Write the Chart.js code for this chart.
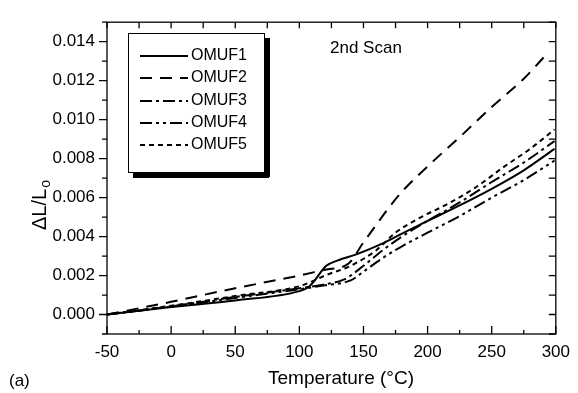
<!DOCTYPE html>
<html>
<head>
<meta charset="utf-8">
<script src="https://cdn.jsdelivr.net/npm/chart.js@4.4.1/dist/chart.umd.min.js"></script>
<style>
html,body{margin:0;padding:0;background:#fff;}
#wrap{width:578px;height:393px;}
</style>
</head>
<body>
<div id="wrap"><canvas id="grafico" width="578" height="393"></canvas></div>
<script>
// valores (temperatura em °C, ΔL/Lo)
const nomes = ['OMUF1','OMUF2','OMUF3','OMUF4','OMUF5'];
const tempOMUF1 = [-50, 0, 50, 100, 107, 112, 117, 121, 130, 145, 165, 180, 200, 225, 250, 275, 299];
const valOMUF1  = [0, 0.00038, 0.00072, 0.0012, 0.0014, 0.00175, 0.0022, 0.0025, 0.00278, 0.0031, 0.00365, 0.00415, 0.0048, 0.0056, 0.00645, 0.0074, 0.0085];
const tempOMUF2 = [-50, 0, 50, 100, 120, 138, 150, 160, 170, 180, 200, 225, 250, 275, 292];
const valOMUF2  = [0, 0.00065, 0.00135, 0.002, 0.0023, 0.0026, 0.0037, 0.0046, 0.0055, 0.0063, 0.0076, 0.0091, 0.01065, 0.0121, 0.0133];
const tempOMUF3 = [-50, 0, 50, 100, 120, 135, 150, 165, 180, 200, 225, 250, 275, 299];
const valOMUF3  = [0, 0.00042, 0.0009, 0.00135, 0.00155, 0.0018, 0.0025, 0.0033, 0.004, 0.0048, 0.00575, 0.0068, 0.0078, 0.0089];
const tempOMUF4 = [-50, 0, 50, 100, 120, 140, 150, 165, 180, 200, 225, 250, 275, 299];
const valOMUF4  = [0, 0.0004, 0.00085, 0.0013, 0.0015, 0.00175, 0.0022, 0.0029, 0.0035, 0.0042, 0.00505, 0.006, 0.0069, 0.0079];
const tempOMUF5 = [-50, 0, 50, 100, 110, 120, 140, 160, 175, 195, 215, 237, 260, 280, 299];
const valOMUF5  = [0, 0.00045, 0.00095, 0.00145, 0.0017, 0.002, 0.0025, 0.0033, 0.0042, 0.005, 0.00565, 0.0065, 0.0076, 0.0085, 0.0095];
const xTicks = [-50, 0, 50, 100, 150, 200, 250, 300];
const yTicks = [0, 0.002, 0.004, 0.006, 0.008, 0.010, 0.012, 0.014];
const tracos = [[], [12, 8], [12, 4, 3, 4], [12, 4, 3, 4, 3, 4], [5, 4]];

const temps = [tempOMUF1, tempOMUF2, tempOMUF3, tempOMUF4, tempOMUF5];
const vals = [valOMUF1, valOMUF2, valOMUF3, valOMUF4, valOMUF5];

const fonte = 'Arial, "Liberation Sans", sans-serif';

// eixos, ticks internos/externos, legenda e textos
const extras = {
  id: 'extras',
  afterDraw(chart){
    const c = chart.ctx, a = chart.chartArea;
    const sx = chart.scales.x, sy = chart.scales.y;
    c.save();
    c.strokeStyle = '#000'; c.lineWidth = 1.3; c.setLineDash([]);
    c.strokeRect(a.left, a.top, a.right - a.left, a.bottom - a.top);
    c.beginPath();
    for(let t = -50; t <= 300; t += 25){
      const px = sx.getPixelForValue(t);
      const major = xTicks.includes(t);
      c.moveTo(px, a.bottom); c.lineTo(px, a.bottom - (major ? 8 : 4));
      c.moveTo(px, a.top); c.lineTo(px, a.top + 6);
    }
    for(let k = -1; k <= 15; k++){
      const v = k / 1000;
      const py = sy.getPixelForValue(v);
      const major = (k % 2 === 0);
      c.moveTo(a.left, py); c.lineTo(a.left - (major ? 8 : 5), py);
      c.moveTo(a.right, py); c.lineTo(a.right - 7, py);
    }
    c.stroke();

    // legenda
    const bx = 128, by = 33, bw = 136, bh = 139;
    c.fillStyle = '#000';
    c.fillRect(bx + 5, by + bh, bw, 6);
    c.fillRect(bx + bw, by + 5, 6, bh);
    c.fillStyle = '#fff';
    c.fillRect(bx, by, bw, bh);
    c.lineWidth = 1; c.strokeRect(bx + 0.5, by + 0.5, bw, bh);
    const linhas = [56, 78, 101, 123, 145];
    c.font = '16px ' + fonte; c.textBaseline = 'middle'; c.textAlign = 'left';
    chart.data.datasets.forEach((ds, i) => {
      c.strokeStyle = '#000'; c.lineWidth = 2;
      c.setLineDash(ds.borderDash);
      c.beginPath(); c.moveTo(140, linhas[i]); c.lineTo(188, linhas[i]); c.stroke();
      c.setLineDash([]);
      c.fillStyle = '#000';
      c.fillText(ds.label, 191, linhas[i]);
    });

    c.font = '17px ' + fonte;
    c.fillText('2nd Scan', 330, 48);
    c.fillText('(a)', 9, 381);
    c.font = '19px ' + fonte; c.textAlign = 'center';
    c.fillText('Temperature (\u00B0C)', 341, 379);

    // título do eixo y com subscrito
    c.translate(46, 230); c.rotate(-Math.PI / 2);
    c.textAlign = 'left'; c.textBaseline = 'alphabetic';
    c.font = '20px ' + fonte;
    const t1 = '\u0394L/L';
    c.fillText(t1, 0, 0);
    const w = c.measureText(t1).width;
    c.font = '14px ' + fonte;
    c.fillText('o', w + 1, 4);
    c.restore();
  }
};

const datasets = nomes.map((n, i) => ({
  label: n,
  data: temps[i].map((t, j) => ({x: t, y: vals[i][j]})),
  borderColor: '#000',
  borderWidth: 2,
  borderDash: tracos[i],
  pointRadius: 0,
  cubicInterpolationMode: 'monotone',
  fill: false
}));

const ctx = document.getElementById('grafico').getContext('2d');
const grafico = new Chart(ctx, {
  type: 'line',
  data: {datasets},
  options: {
    responsive: false, animation: false, devicePixelRatio: 1,
    layout: {padding: {top: 13, right: 19, left: 0, bottom: 0}},
    plugins: {legend: {display: false}, tooltip: {enabled: false}},
    scales: {
      x: {
        type: 'linear', min: -50, max: 300,
        afterBuildTicks: s => { s.ticks = xTicks.map(v => ({value: v})); },
        afterFit: s => { s.height = 59; },
        grid: {display: false, drawTicks: false},
        border: {display: false},
        ticks: {color: '#000', font: {size: 17, family: fonte}, padding: 8, maxRotation: 0, autoSkip: false}
      },
      y: {
        type: 'linear', min: -0.001, max: 0.015,
        afterBuildTicks: s => { s.ticks = yTicks.map(v => ({value: v})); },
        afterFit: s => { s.width = 107; },
        grid: {display: false, drawTicks: false},
        border: {display: false},
        ticks: {color: '#000', font: {size: 17, family: fonte}, padding: 12, callback: v => v.toFixed(3)}
      }
    }
  },
  plugins: [extras]
});
</script>
</body>
</html>
